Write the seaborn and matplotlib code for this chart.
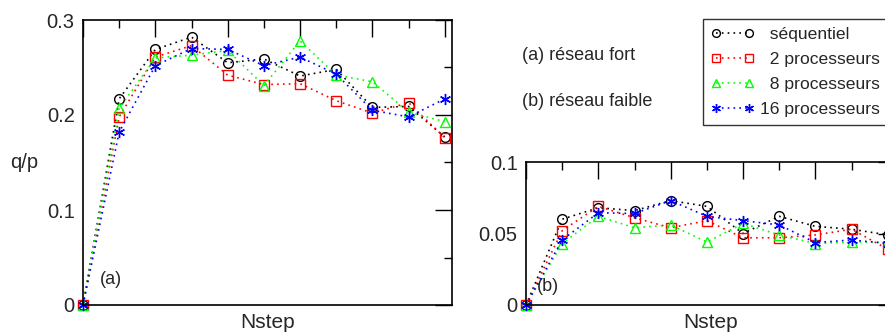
import pandas as pd
import seaborn as sns
import matplotlib.pyplot as plt
from matplotlib.ticker import MultipleLocator

# values
steps = list(range(11))
series_names = ['\u2007séquentiel', '\u20072 processeurs', '\u20078 processeurs', '16 processeurs']

# (a) reseau fort
a_seq = [0, 0.217, 0.269, 0.282, 0.255, 0.259, 0.241, 0.248, 0.208, 0.209, 0.177]
a_p2 = [0, 0.198, 0.261, 0.273, 0.242, 0.232, 0.233, 0.215, 0.202, 0.213, 0.176]
a_p8 = [0, 0.207, 0.260, 0.263, 0.268, 0.231, 0.278, 0.242, 0.235, 0.203, 0.193]
a_p16 = [0, 0.182, 0.252, 0.270, 0.269, 0.252, 0.261, 0.243, 0.205, 0.198, 0.217]

# (b) reseau faible
b_seq = [0, 0.060, 0.068, 0.066, 0.073, 0.069, 0.050, 0.062, 0.055, 0.053, 0.049]
b_p2 = [0, 0.052, 0.069, 0.061, 0.054, 0.059, 0.047, 0.047, 0.049, 0.053, 0.039]
b_p8 = [0, 0.043, 0.062, 0.054, 0.056, 0.044, 0.057, 0.049, 0.043, 0.044, 0.044]
b_p16 = [0, 0.0455, 0.0645, 0.064, 0.073, 0.062, 0.059, 0.056, 0.0436, 0.0455, 0.043]

colors = ['#000000', '#ff0000', '#00ff00', '#0000ff']
markers = ['o', 's', '^', (6, 2, 0)]
msizes = [7, 7, 7.5, 8]

sns.set_theme(style='white')
plt.rcParams['font.family'] = ['Liberation Sans', 'DejaVu Sans']

fig = plt.figure(figsize=(8.85, 3.33), dpi=100)
W, H = 885, 333
ax_a = fig.add_axes([83 / W, 28 / H, 369 / W, 285 / H])
ax_b = fig.add_axes([526 / W, 28 / H, 369 / W, 143 / H])


def draw(ax, values):
    for name, vals, c, m, ms in zip(series_names, values, colors, markers, msizes):
        df = pd.DataFrame({'Nstep': steps, 'q/p': vals})
        sns.lineplot(data=df, x='Nstep', y='q/p', ax=ax, color=c, marker=m,
                     markersize=ms, markerfacecolor='none', markeredgecolor=c,
                     markeredgewidth=1.0, linestyle=(0, (1, 2.5)), linewidth=1.2,
                     label=name, legend=False, clip_on=False)
    ax.set_xlim(0, 10.2)
    ax.xaxis.set_major_locator(MultipleLocator(2))
    ax.xaxis.set_minor_locator(MultipleLocator(1))
    ax.tick_params(which='both', direction='in', top=True, right=True,
                   labelbottom=False, labelsize=14.5, pad=6, color='black')
    ax.tick_params(which='major', length=12, width=1)
    ax.tick_params(which='minor', length=6, width=1)
    for s in ax.spines.values():
        s.set_color('black')
        s.set_linewidth(1.2)
    ax.set_xlabel('Nstep', fontsize=15, labelpad=6)
    ax.set_ylabel('')


draw(ax_a, [a_seq, a_p2, a_p8, a_p16])
ax_a.set_ylim(0, 0.3)
ax_a.yaxis.set_major_locator(MultipleLocator(0.1))
ax_a.yaxis.set_minor_locator(MultipleLocator(0.05))
ax_a.set_yticks([0, 0.1, 0.2, 0.3], ['0', '0.1', '0.2', '0.3'])
ax_a.set_ylabel('q/p', rotation=0, fontsize=14.5, ha='center', va='center')
ax_a.yaxis.set_label_coords(-0.16, 0.5)
ax_a.text(0.046, 0.088, '(a)', transform=ax_a.transAxes, fontsize=13, va='center')

draw(ax_b, [b_seq, b_p2, b_p8, b_p16])
ax_b.set_ylim(0, 0.1)
ax_b.yaxis.set_major_locator(MultipleLocator(0.05))
ax_b.yaxis.set_minor_locator(MultipleLocator(0.025))
ax_b.set_yticks([0, 0.05, 0.1], ['0', '0.05', '0.1'])
ax_b.text(0.030, 0.126, '(b)', transform=ax_b.transAxes, fontsize=13, va='center')

fig.text(522 / W, 1 - 55 / H, '(a) réseau fort', fontsize=13, va='center')
fig.text(522 / W, 1 - 102 / H, '(b) réseau faible', fontsize=13, va='center')

handles, labels = ax_a.get_legend_handles_labels()
leg = fig.legend(handles, labels, loc='upper left', bbox_to_anchor=(703 / W, 1 - 19 / H),
                 borderaxespad=0, fontsize=12.6, numpoints=2, handlelength=2.5,
                 handletextpad=0.3, labelspacing=0.55, borderpad=0.45, fancybox=False,
                 framealpha=1, edgecolor='#333333', markerscale=0.8)
leg.get_frame().set_linewidth(1.0)

fig.savefig('out.png', dpi=100)
